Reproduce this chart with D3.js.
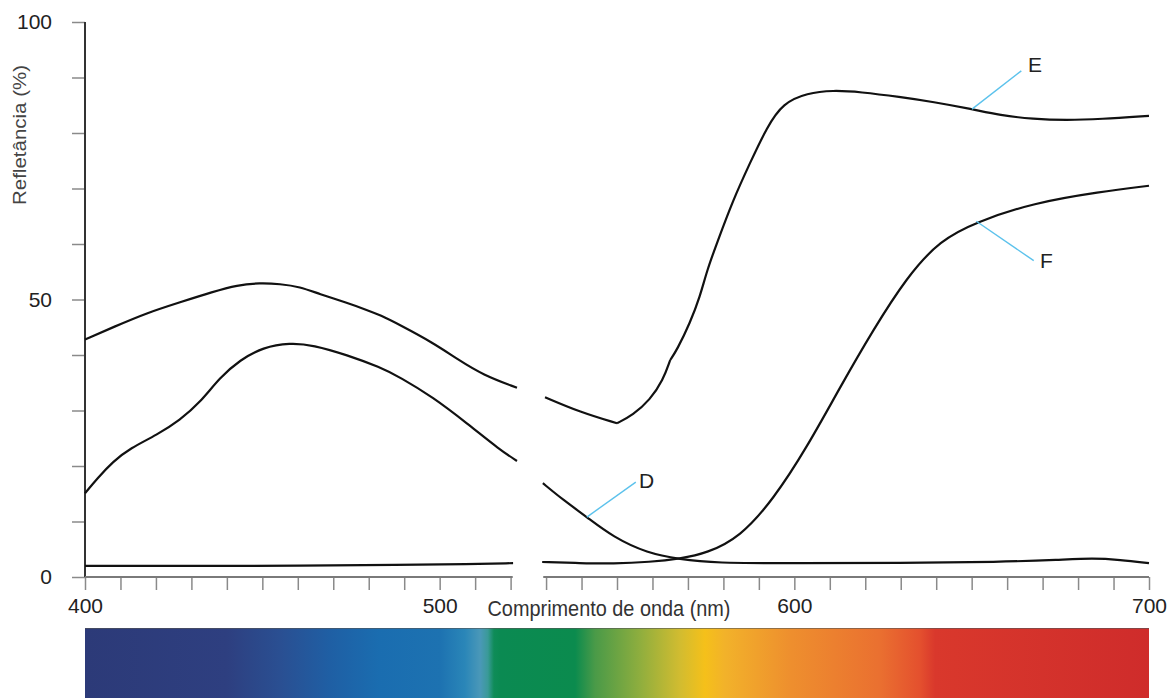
<!DOCTYPE html>
<html>
<head>
<meta charset="utf-8">
<script src="https://cdn.jsdelivr.net/npm/d3@7"></script>
<style>
  html, body { margin: 0; padding: 0; background: #fff; }
  svg { display: block; }
</style>
</head>
<body>
<svg id="chart" width="1176" height="698"></svg>
<script>
// Reflectance curves, [wavelength nm, reflectance %]
const seriesE = [
  [400, 42.8], [407.9, 45.0], [417.5, 47.6], [426.8, 49.5], [436.1, 51.4],
  [442.9, 52.6], [449.3, 53.0], [455.0, 52.8], [460.6, 52.3], [466, 51.0],
  [473.9, 49.4], [479.5, 48.1], [483.2, 47.2], [488.8, 45.4], [498.1, 42.2],
  [504.9, 39.3], [512.2, 36.4], [521.8, 34.1],
  [529.7, 32.4], [539.6, 29.7], [550.0, 27.7],
  [554.5, 29.2], [559.3, 31.9], [563.0, 35.5], [565.0, 39.1], [566.9, 40.9],
  [570.6, 45.8], [573.4, 50.5], [575.4, 55.3], [578.2, 60.2], [582.7, 67.9],
  [587.5, 74.6], [592.3, 81.1], [596.8, 85.4], [603.6, 87.2], [610.9, 87.7],
  [618.5, 87.4], [629.8, 86.5], [639.1, 85.6], [650.1, 84.3], [658.0, 83.2],
  [667.3, 82.5], [676.9, 82.3], [686.2, 82.5], [700, 83.1]
];
const seriesD = [
  [400, 15.1], [403.5, 17.8], [407.9, 20.8], [412.7, 23.2], [420.3, 25.6],
  [426.8, 28.3], [432.4, 31.4], [438.1, 36.0], [443.7, 39.1], [450.2, 41.4],
  [457.8, 42.2], [464.3, 41.8], [473.9, 40.0], [483.2, 37.8], [488.8, 36.0],
  [498.1, 32.4], [507.7, 27.7], [517.0, 22.9], [521.8, 20.9],
  [529.1, 16.9], [534.8, 13.9], [541.5, 10.8], [548.9, 7.2], [558.5, 4.3],
  [567.8, 3.2], [577.1, 2.5], [601.6, 2.5], [629.8, 2.5], [658.0, 2.7],
  [674.9, 3.1], [684.2, 3.4], [691.8, 3.1], [700, 2.5]
];
const seriesF = [
  [400, 2.0], [432.4, 2.0], [460.6, 2.0], [488.8, 2.2], [508.5, 2.3], [520.7, 2.5],
  [528.9, 2.7], [539.6, 2.5], [548.9, 2.4], [559.3, 2.7], [567.8, 3.3],
  [575.4, 4.3], [584.7, 7.2], [594.0, 13.9], [603.6, 23.4], [612.9, 34.2],
  [622.2, 44.5], [631.8, 54.1], [641.1, 60.7], [651.5, 64.0], [667.3, 67.4],
  [686.2, 69.4], [700, 70.5]
];

// Break in the wavelength axis and sharp corners in a curve
const axisGap = [520.6, 529.2];
const cornersE = [550.0, 565.0];

// Axis ticks and labels
const xTicks = d3.range(400, 701, 10).filter(v => v < axisGap[0] || v > axisGap[1]);
const xTickLabels = [400, 500, 600, 700];
const yTicks = d3.range(0, 101, 10);
const yTickLabels = [0, 50, 100];

// Curve labels: [name, leader start nm, leader start %, leader end nm, leader end %, text nm, text baseline %]
const curveLabels = [
  ["E", 650.1, 84.3, 664.0, 91.2, 665.9, 91.0],
  ["F", 651.3, 64.1, 667.5, 57.0, 669.3, 55.7],
  ["D", 541.5, 10.8, 555.3, 17.1, 556.2, 16.0]
];

// Visible spectrum colours, [wavelength nm, colour]
const spectrumStops = [
  [400, "#2c3a78"], [440, "#2e3f80"], [450, "#2b4a8c"], [455, "#2a4f92"],
  [469, "#1f5fa4"], [483, "#1a6db0"], [500, "#1d72b1"], [507.1, "#2a86b8"],
  [511.4, "#4a98b8"], [513.6, "#3a9a98"], [515.3, "#0f8c58"], [517, "#0b8a52"],
  [538.2, "#0b8b4e"], [543.8, "#4a9a48"], [556.5, "#8fae3e"], [567.8, "#d2bc30"],
  [574.8, "#f5c01a"], [580.4, "#f2b22a"], [598.8, "#ee8f2e"], [624, "#ea7030"],
  [635.4, "#e4502e"], [639.7, "#d9382c"], [700, "#cf2c2b"]
];

const svg = d3.select("#chart");
const x = d3.scaleLinear().domain([400, 700]).range([85, 1149]);
const y = d3.scaleLinear().domain([0, 100]).range([577, 22]);

// Spectrum strip under the axis
const defs = svg.append("defs");
const grad = defs.append("linearGradient")
  .attr("id", "spectrum")
  .attr("gradientUnits", "userSpaceOnUse")
  .attr("x1", x(400)).attr("x2", x(700)).attr("y1", 0).attr("y2", 0);
grad.selectAll("stop").data(spectrumStops).join("stop")
  .attr("offset", d => (x(d[0]) - x(400)) / (x(700) - x(400)))
  .attr("stop-color", d => d[1]);
svg.append("rect")
  .attr("x", x(400)).attr("y", 628)
  .attr("width", x(700) - x(400)).attr("height", 80)
  .attr("fill", "url(#spectrum)");
svg.append("line")
  .attr("x1", x(400)).attr("x2", x(700)).attr("y1", 628.5).attr("y2", 628.5)
  .attr("stroke", "#555").attr("stroke-width", 1).attr("opacity", 0.6);

const tickFont = "'Liberation Sans', Arial, sans-serif";
const narrowFont = "'Liberation Sans Narrow', 'Arial Narrow', 'Liberation Sans', sans-serif";

// Y axis
const yAxis = d3.axisLeft(y)
  .tickValues(yTicks)
  .tickSize(13)
  .tickPadding(20)
  .tickFormat(d => yTickLabels.includes(d) ? d : "");
const gy = svg.append("g").attr("transform", `translate(${x(400)},0)`).call(yAxis);
gy.select(".domain").remove();
gy.selectAll(".tick line").attr("stroke", "#8a8a8a").attr("stroke-width", 1.5);
gy.selectAll(".tick text")
  .attr("font-family", tickFont)
  .attr("font-size", 21).attr("fill", "#222");
svg.append("line")
  .attr("x1", x(400)).attr("x2", x(400)).attr("y1", y(100)).attr("y2", y(0))
  .attr("stroke", "#333").attr("stroke-width", 2);

// X axis, broken between 520 and 530 nm
const xAxis = d3.axisBottom(x)
  .tickValues(xTicks)
  .tickSize(13)
  .tickPadding(8)
  .tickFormat(d => xTickLabels.includes(d) ? d : "");
const gx = svg.append("g").attr("transform", `translate(0,${y(0)})`).call(xAxis);
gx.select(".domain").remove();
gx.selectAll(".tick line").attr("stroke", "#8a8a8a").attr("stroke-width", 1.5);
gx.selectAll(".tick text")
  .attr("font-family", tickFont)
  .attr("font-size", 21).attr("fill", "#222");
[[400, axisGap[0]], [axisGap[1], 700]].forEach(([a, b]) => {
  svg.append("line")
    .attr("x1", x(a)).attr("x2", x(b)).attr("y1", y(0)).attr("y2", y(0))
    .attr("stroke", "#7a7a7a").attr("stroke-width", 2);
});

// Axis titles
svg.append("text")
  .attr("x", 609).attr("y", 616)
  .attr("text-anchor", "middle")
  .attr("font-family", narrowFont)
  .attr("font-size", 22).attr("fill", "#333")
  .attr("textLength", 243).attr("lengthAdjust", "spacingAndGlyphs")
  .text("Comprimento de onda (nm)");
svg.append("text")
  .attr("transform", "translate(26,135) rotate(-90)")
  .attr("text-anchor", "middle")
  .attr("font-family", narrowFont)
  .attr("font-size", 19).attr("fill", "#444")
  .attr("textLength", 140).attr("lengthAdjust", "spacingAndGlyphs")
  .text("Refletância (%)");

// Split a series at the axis break and at corner points
function segments(series, corners = []) {
  const out = [];
  let cur = [];
  series.forEach((p, i) => {
    if (cur.length && cur[cur.length - 1][0] < axisGap[0] + 2 && p[0] > axisGap[1] - 2) {
      out.push(cur);
      cur = [];
    }
    cur.push(p);
    if (corners.includes(p[0]) && i < series.length - 1) {
      out.push(cur);
      cur = [p];
    }
  });
  if (cur.length) out.push(cur);
  return out;
}

const line = d3.line()
  .x(d => x(d[0]))
  .y(d => y(d[1]))
  .curve(d3.curveBasis);

const curves = [
  ...segments(seriesE, cornersE),
  ...segments(seriesD),
  ...segments(seriesF)
];
svg.append("g").selectAll("path").data(curves).join("path")
  .attr("d", line)
  .attr("fill", "none")
  .attr("stroke", "#111")
  .attr("stroke-width", 2.2)
  .attr("stroke-linejoin", "round")
  .attr("stroke-linecap", "butt");

// Curve labels with leader lines
const lg = svg.append("g");
curveLabels.forEach(([name, n0, v0, n1, v1, tn, tv]) => {
  lg.append("line")
    .attr("x1", x(n0)).attr("y1", y(v0))
    .attr("x2", x(n1)).attr("y2", y(v1))
    .attr("stroke", "#5cc2ec").attr("stroke-width", 1.4);
  lg.append("text")
    .attr("x", x(tn)).attr("y", y(tv))
    .attr("font-family", tickFont)
    .attr("font-size", 21).attr("fill", "#222")
    .text(name);
});
</script>
</body>
</html>
